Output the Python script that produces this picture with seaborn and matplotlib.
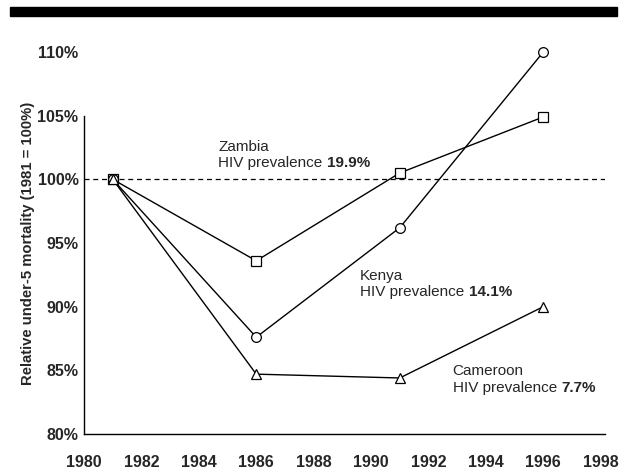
import pandas as pd
import matplotlib
matplotlib.use("Agg")
import matplotlib.pyplot as plt
import seaborn as sns

# values
years = [1981, 1986, 1991, 1996]
zambia = [100.0, 93.6, 100.5, 104.9]
kenya = [100.0, 87.6, 96.2, 110.0]
cameroon = [100.0, 84.7, 84.4, 90.0]

countries = ["Zambia", "Kenya", "Cameroon"]
prevalence = ["19.9%", "14.1%", "7.7%"]
markers = {"Zambia": "s", "Kenya": "o", "Cameroon": "^"}
label_pos = {"Zambia": (1984.67, 100.75), "Kenya": (1989.62, 90.6), "Cameroon": (1992.84, 83.1)}

x_ticks = list(range(1980, 1999, 2))
y_ticks = [80, 85, 90, 95, 100, 105, 110]

df = pd.DataFrame({
    "Year": years * 3,
    "Mortality": zambia + kenya + cameroon,
    "Country": sum([[c] * len(years) for c in countries], []),
})

sns.set_style("white")
plt.rcParams["font.family"] = ["Liberation Sans", "DejaVu Sans"]

fig = plt.figure(figsize=(6.27, 4.70), dpi=100)
ax = fig.add_axes([0.134, 0.0766, 0.831, 0.8128])

# black banner at the top
fig.patches.append(plt.Rectangle((0.016, 0.966), 0.968, 0.019, transform=fig.transFigure,
                                 color="black", zorder=5))

ax.axhline(100, color="black", lw=0.9, ls=(0, (4, 3)), zorder=1)

for country in countries:
    sub = df[df["Country"] == country]
    sns.lineplot(data=sub, x="Year", y="Mortality", ax=ax, color="black", lw=1.0,
                 marker=markers[country], markersize=7 if country == "Kenya" else 6.5,
                 markerfacecolor="white", markeredgecolor="black", markeredgewidth=0.9,
                 zorder=3, clip_on=False)

# annotations: country name + prevalence with the number in bold
for country, prev in zip(countries, prevalence):
    x, y = label_pos[country]
    t = ax.text(x, y, f"{country}\nHIV prevalence ", fontsize=11, va="bottom", ha="left")
    ax.annotate(prev, xy=(1, 0), xycoords=t, va="bottom", ha="left",
                fontsize=11, fontweight="bold")

ax.set_xlim(1980, 1998.15)
ax.set_ylim(80, 110)
ax.set_xticks(x_ticks)
ax.set_yticks(y_ticks)
ax.set_yticklabels([f"{v}%" for v in y_ticks])
ax.tick_params(axis="both", length=0, labelsize=11.5)
ax.tick_params(axis="x", pad=15)
ax.tick_params(axis="y", pad=4)
for lab in ax.get_xticklabels() + ax.get_yticklabels():
    lab.set_fontweight("bold")

ax.set_xlabel("")
ax.set_ylabel("Relative under-5 mortality (1981 = 100%)", fontsize=10.7, fontweight="bold")
ax.yaxis.set_label_coords(-0.094, 0.5)

sns.despine(ax=ax)
ax.spines["left"].set_bounds(80, 105)
ax.spines["left"].set_linewidth(1.0)
ax.spines["bottom"].set_linewidth(1.0)
ax.spines["left"].set_color("black")
ax.spines["bottom"].set_color("black")

fig.savefig("out.png", dpi=100)
